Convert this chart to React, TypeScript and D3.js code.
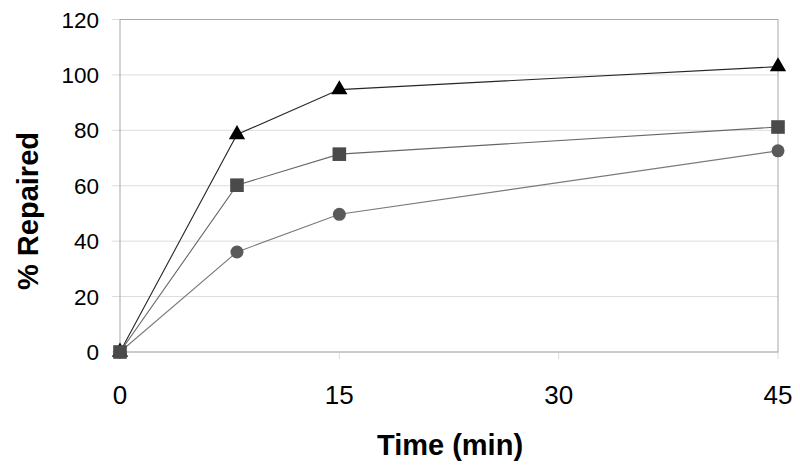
import React from "react";
import * as d3 from "d3";

const times = [0, 8, 15, 45];
const triangleValues = [0, 78.5, 94.7, 103];
const squareValues = [0, 60.2, 71.4, 81.2];
const circleValues = [0, 36.1, 49.7, 72.6];
const xTicks = [0, 15, 30, 45];
const yTicks = [0, 20, 40, 60, 80, 100, 120];

const W = 800;
const H = 471;
const M = { left: 120, right: 22, top: 19.5, bottom: 119 };

export default function App() {
  const x = d3.scaleLinear().domain([0, 45]).range([M.left, W - M.right]);
  const y = d3.scaleLinear().domain([0, 120]).range([H - M.bottom, M.top]);
  const line = d3
    .line<number>()
    .x((_, i) => x(times[i]))
    .y((d) => y(d));

  const series = [
    { key: "circle", values: circleValues, stroke: "#7a7a7a", fill: "#5a5a5a" },
    { key: "triangle", values: triangleValues, stroke: "#262626", fill: "#000000" },
    { key: "square", values: squareValues, stroke: "#666666", fill: "#4a4a4a" },
  ];
  const tri = d3.symbol(d3.symbolTriangle, 115)();
  const font = "Liberation Sans, Arial, sans-serif";

  return (
    <svg
      width={W}
      height={H}
      style={{ position: "absolute", left: 0, top: 0, background: "#fff" }}
    >
      {yTicks.map((t) => (
        <line
          key={"g" + t}
          x1={M.left - 8}
          x2={W - M.right}
          y1={y(t)}
          y2={y(t)}
          stroke="#dcdcdc"
          strokeWidth={1}
        />
      ))}
      {xTicks.map((t) => (
        <line
          key={"xt" + t}
          x1={x(t)}
          x2={x(t)}
          y1={y(0)}
          y2={y(0) + 7}
          stroke="#dcdcdc"
          strokeWidth={1}
        />
      ))}
      <rect
        x={M.left}
        y={M.top}
        width={W - M.right - M.left}
        height={y(0) - M.top}
        fill="none"
        stroke="#a8a8a8"
        strokeWidth={1}
      />
      {yTicks.map((t) => (
        <text
          key={"yl" + t}
          x={99}
          y={y(t)}
          dy="0.36em"
          textAnchor="end"
          fontFamily={font}
          fontSize={22.5}
          fill="#000"
        >
          {t}
        </text>
      ))}
      {xTicks.map((t) => (
        <text
          key={"xl" + t}
          x={x(t)}
          y={404}
          textAnchor="middle"
          fontFamily={font}
          fontSize={26}
          fill="#000"
        >
          {t}
        </text>
      ))}
      <text
        x={450}
        y={455}
        textAnchor="middle"
        fontFamily={font}
        fontSize={29}
        fontWeight="bold"
      >
        Time (min)
      </text>
      <text
        transform={`translate(38,211) rotate(-90)`}
        textAnchor="middle"
        fontFamily={font}
        fontSize={29}
        fontWeight="bold"
      >
        % Repaired
      </text>
      {series.map((s) => (
        <path
          key={"l" + s.key}
          d={line(s.values) || ""}
          fill="none"
          stroke={s.stroke}
          strokeWidth={1.1}
        />
      ))}
      {series.map((s) => (
        <g key={"m" + s.key}>
          {s.values.map((v, i) => {
            const cx = x(times[i]);
            const cy = y(v);
            if (s.key === "circle")
              return <circle key={i} cx={cx} cy={cy} r={6.5} fill={s.fill} />;
            if (s.key === "square")
              return (
                <rect key={i} x={cx - 6.8} y={cy - 6.8} width={13.6} height={13.6} fill={s.fill} />
              );
            return (
              <path key={i} d={tri || ""} transform={`translate(${cx},${cy})`} fill={s.fill} />
            );
          })}
        </g>
      ))}
    </svg>
  );
}
